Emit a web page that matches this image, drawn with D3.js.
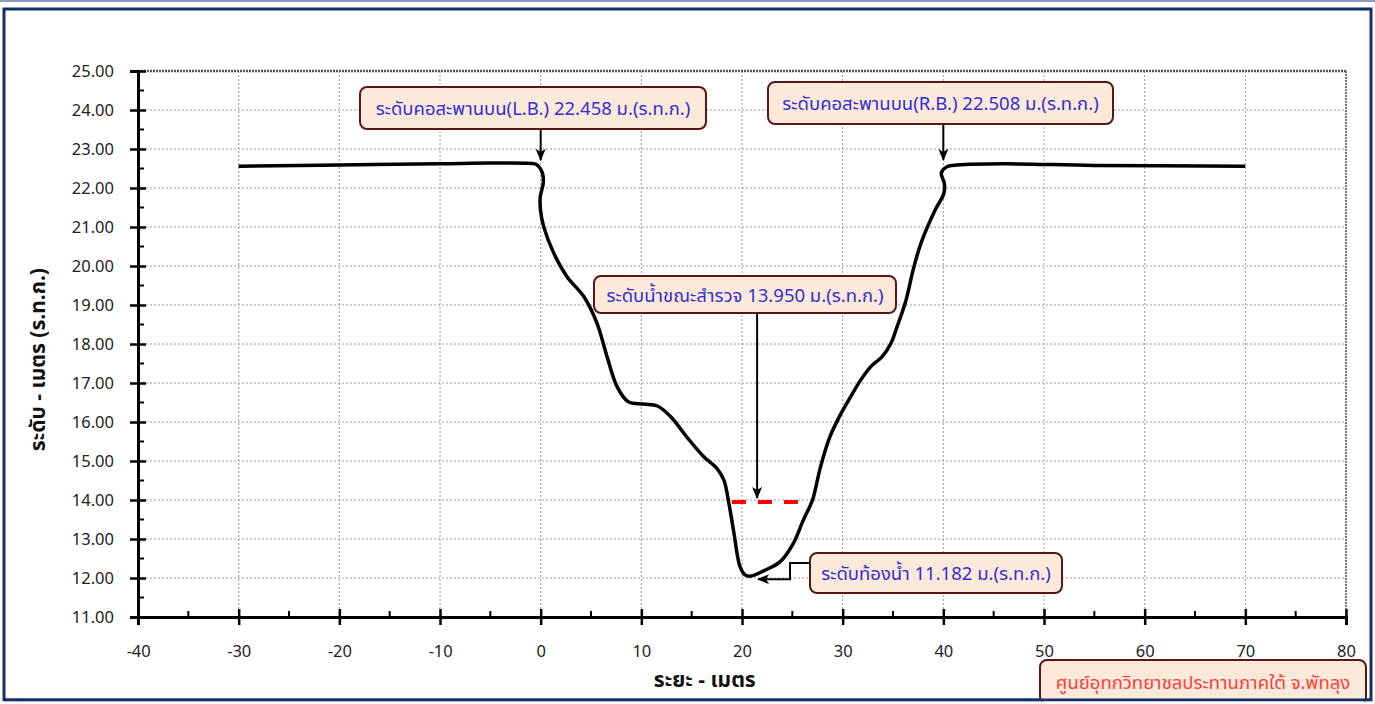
<!DOCTYPE html>
<html>
<head>
<meta charset="utf-8">
<script src="https://cdn.jsdelivr.net/npm/d3@7"></script>
<style>
  body { margin: 0; background: #fff; }
  svg { display: block; }
</style>
</head>
<body>
<svg></svg>
<script>
const width = 1375;
const height = 704;
const margin = { top: 71, right: 29, bottom: 87, left: 138 };
const font = 'Tahoma, "Noto Sans Thai", "Noto Sans", "DejaVu Sans", sans-serif';

// cross-section: distance (m) and elevation (m MSL)
const distance = [-30, -20, -10, -5, -1, -0.4, 0.15, 0.26, -0.04, -0.02, 0.3, 1.3, 2.6, 4.3, 5.6, 6.6, 7.6, 8.7,
  10.2, 11.6, 12.9, 14.5, 16.2, 17.5, 18.2, 18.7, 19.2, 19.8, 20.3, 20.9, 22.2, 23.8, 25.1, 26.1, 26.8, 27.1,
  27.8, 28.7, 29.7, 30.8, 31.8, 32.8, 33.9, 34.8, 35.4, 36.3, 37.0, 37.8, 39.2, 40.05, 40.1, 39.8, 40.4, 41.4,
  46, 55, 70];
const elevation = [22.56, 22.59, 22.62, 22.64, 22.63, 22.6, 22.4, 22.13, 21.78, 21.44, 21.01, 20.33, 19.73,
  19.21, 18.53, 17.67, 16.9, 16.52, 16.46, 16.41, 16.14, 15.62, 15.11, 14.81, 14.51, 13.91, 13.15, 12.29,
  12.08, 12.05, 12.19, 12.42, 12.89, 13.49, 13.87, 14.08, 14.85, 15.6, 16.15, 16.65, 17.08, 17.42, 17.67,
  18.02, 18.44, 19.13, 19.9, 20.6, 21.44, 21.86, 22.12, 22.38, 22.55, 22.59, 22.62, 22.58, 22.56];

// water level at survey time
const waterLevel = 13.95;
const waterExtent = [19, 26];

const xTicks = [-40, -30, -20, -10, 0, 10, 20, 30, 40, 50, 60, 70, 80];
const yTicks = [11, 12, 13, 14, 15, 16, 17, 18, 19, 20, 21, 22, 23, 24, 25];

const labels = {
  leftBank: "ระดับคอสะพานบน(L.B.) 22.458 ม.(ร.ท.ก.)",
  rightBank: "ระดับคอสะพานบน(R.B.) 22.508 ม.(ร.ท.ก.)",
  water: "ระดับน้ำขณะสำรวจ 13.950 ม.(ร.ท.ก.)",
  bed: "ระดับท้องน้ำ 11.182 ม.(ร.ท.ก.)",
  source: "ศูนย์อุทกวิทยาชลประทานภาคใต้ จ.พัทลุง",
  xTitle: "ระยะ - เมตร",
  yTitle: "ระดับ - เมตร (ร.ท.ก.)"
};

const svg = d3.select("svg")
  .attr("width", width)
  .attr("height", height)
  .style("font-family", font);

const x = d3.scaleLinear()
  .domain([-40, 80])
  .range([margin.left, width - margin.right]);

const y = d3.scaleLinear()
  .domain([11, 25])
  .range([height - margin.bottom, margin.top]);

const x0 = x.range()[0], x1 = x.range()[1];
const y0 = y.range()[0], y1 = y.range()[1];

// frame
svg.append("line")
  .attr("x1", 0).attr("x2", width).attr("y1", 1).attr("y2", 1)
  .attr("stroke", "#8d9cc0").attr("stroke-width", 2);
svg.append("rect")
  .attr("x", 4).attr("y", 9)
  .attr("width", width - 8).attr("height", 691)
  .attr("fill", "white")
  .attr("stroke", "#14306a")
  .attr("stroke-width", 3);

const defs = svg.append("defs");
defs.append("marker")
  .attr("id", "arrow")
  .attr("viewBox", "0 0 12 10")
  .attr("refX", 11).attr("refY", 5)
  .attr("markerWidth", 12).attr("markerHeight", 10)
  .attr("markerUnits", "userSpaceOnUse")
  .attr("orient", "auto")
  .append("path")
  .attr("d", "M0,0 L12,5 L0,10 L3,5 Z")
  .attr("fill", "#000");

// grid
svg.append("g")
  .selectAll("line")
  .data(xTicks.slice(1, -1))
  .join("line")
  .attr("x1", d => x(d)).attr("x2", d => x(d))
  .attr("y1", y1).attr("y2", y0)
  .attr("stroke", "#9a9a9a")
  .attr("stroke-width", 1)
  .attr("stroke-dasharray", "2,2");

svg.append("g")
  .selectAll("line")
  .data(yTicks.slice(1, -1))
  .join("line")
  .attr("x1", x0).attr("x2", x1)
  .attr("y1", d => y(d)).attr("y2", d => y(d))
  .attr("stroke", "#9a9a9a")
  .attr("stroke-width", 1)
  .attr("stroke-dasharray", "2,2");

// top and right border of plot area
svg.append("line")
  .attr("x1", x0).attr("x2", x1).attr("y1", y1).attr("y2", y1)
  .attr("stroke", "#555").attr("stroke-width", 2.5).attr("stroke-dasharray", "2,1");
svg.append("line")
  .attr("x1", x1).attr("x2", x1).attr("y1", y1).attr("y2", y0)
  .attr("stroke", "#777").attr("stroke-width", 2).attr("stroke-dasharray", "2,1");

// axes
const yAxis = svg.append("g")
  .attr("transform", `translate(${x0},0)`)
  .call(d3.axisLeft(y).tickValues(yTicks).tickFormat(d3.format(".2f")).tickSize(8).tickPadding(16));
const xAxis = svg.append("g")
  .attr("transform", `translate(0,${y0})`)
  .call(d3.axisBottom(x).tickValues(xTicks).tickFormat(d3.format("d")).tickSize(8).tickPadding(20));

[xAxis, yAxis].forEach(g => {
  g.select(".domain").attr("stroke", "#000").attr("stroke-width", 3);
  g.selectAll(".tick line").attr("stroke", "#000").attr("stroke-width", 2.5);
  g.selectAll(".tick text")
    .attr("fill", "#222")
    .style("font-family", font)
    .style("font-size", "16.5px");
});

// inner halves of the major ticks
yAxis.selectAll(".tick").append("line")
  .attr("x2", 8).attr("stroke", "#000").attr("stroke-width", 2.5);
xAxis.selectAll(".tick").append("line")
  .attr("y2", -8).attr("stroke", "#000").attr("stroke-width", 2.5);

// minor ticks
svg.append("g")
  .selectAll("line")
  .data(d3.range(11.5, 25, 1))
  .join("line")
  .attr("x1", x0).attr("x2", x0 + 6)
  .attr("y1", d => y(d)).attr("y2", d => y(d))
  .attr("stroke", "#000").attr("stroke-width", 2);
svg.append("g")
  .selectAll("line")
  .data(d3.range(-35, 80, 10))
  .join("line")
  .attr("x1", d => x(d)).attr("x2", d => x(d))
  .attr("y1", y0).attr("y2", y0 - 6)
  .attr("stroke", "#000").attr("stroke-width", 2);

// axis titles
svg.append("text")
  .attr("x", x(16.3))
  .attr("y", 687)
  .attr("text-anchor", "middle")
  .style("font-size", "21px")
  .style("font-weight", "bold")
  .attr("fill", "#111")
  .text(labels.xTitle);

svg.append("text")
  .attr("transform", `translate(45,${y(17.6)}) rotate(-90)`)
  .attr("text-anchor", "middle")
  .style("font-size", "21px")
  .style("font-weight", "bold")
  .attr("fill", "#111")
  .text(labels.yTitle);

// water level
svg.append("line")
  .attr("x1", x(waterExtent[0])).attr("x2", x(waterExtent[1]))
  .attr("y1", y(waterLevel)).attr("y2", y(waterLevel))
  .attr("stroke", "#ff0000")
  .attr("stroke-width", 4)
  .attr("stroke-dasharray", "14,12");

// bed profile
const profile = d3.zip(distance, elevation);
svg.append("path")
  .datum(profile)
  .attr("fill", "none")
  .attr("stroke", "#000")
  .attr("stroke-width", 3.5)
  .attr("stroke-linejoin", "round")
  .attr("d", d3.line()
    .x(d => x(d[0]))
    .y(d => y(d[1]))
    .curve(d3.curveCatmullRom.alpha(0.5)));

// annotation boxes
function box(x, y, w, h, text, color) {
  const g = svg.append("g");
  g.append("rect")
    .attr("x", x).attr("y", y)
    .attr("width", w).attr("height", h)
    .attr("rx", 7)
    .attr("fill", "#fde9d9")
    .attr("stroke", "#5a1616")
    .attr("stroke-width", 2);
  g.append("text")
    .attr("x", x + w / 2)
    .attr("y", y + h / 2 + 7)
    .attr("text-anchor", "middle")
    .attr("fill", color)
    .style("font-size", "18.5px")
    .text(text);
}

function arrow(points) {
  svg.append("path")
    .attr("d", d3.line()(points))
    .attr("fill", "none")
    .attr("stroke", "#000")
    .attr("stroke-width", 2)
    .attr("marker-end", "url(#arrow)");
}

arrow([[x(0), 129], [x(0), y(22.72)]]);
arrow([[x(40), 124], [x(40), y(22.72)]]);
arrow([[x(21.5), 313], [x(21.5), y(14.05)]]);
arrow([[810, 563], [790, 563], [790, y(11.97)], [x(21.6), y(11.97)]]);

box(360, 87, 346, 42, labels.leftBank, "#2f2fd6");
box(768, 82, 345, 42, labels.rightBank, "#2f2fd6");
box(594, 276, 302, 37, labels.water, "#2f2fd6");
box(810, 553, 252, 40, labels.bed, "#2f2fd6");
box(1040, 660, 326, 44, labels.source, "#ff3b3b");

// redraw bottom frame edge over the source box
svg.append("line")
  .attr("x1", 4).attr("x2", width - 4).attr("y1", 700).attr("y2", 700)
  .attr("stroke", "#14306a").attr("stroke-width", 3);
svg.append("rect")
  .attr("x", 0).attr("y", 701.5).attr("width", width).attr("height", 3)
  .attr("fill", "white");
</script>
</body>
</html>
